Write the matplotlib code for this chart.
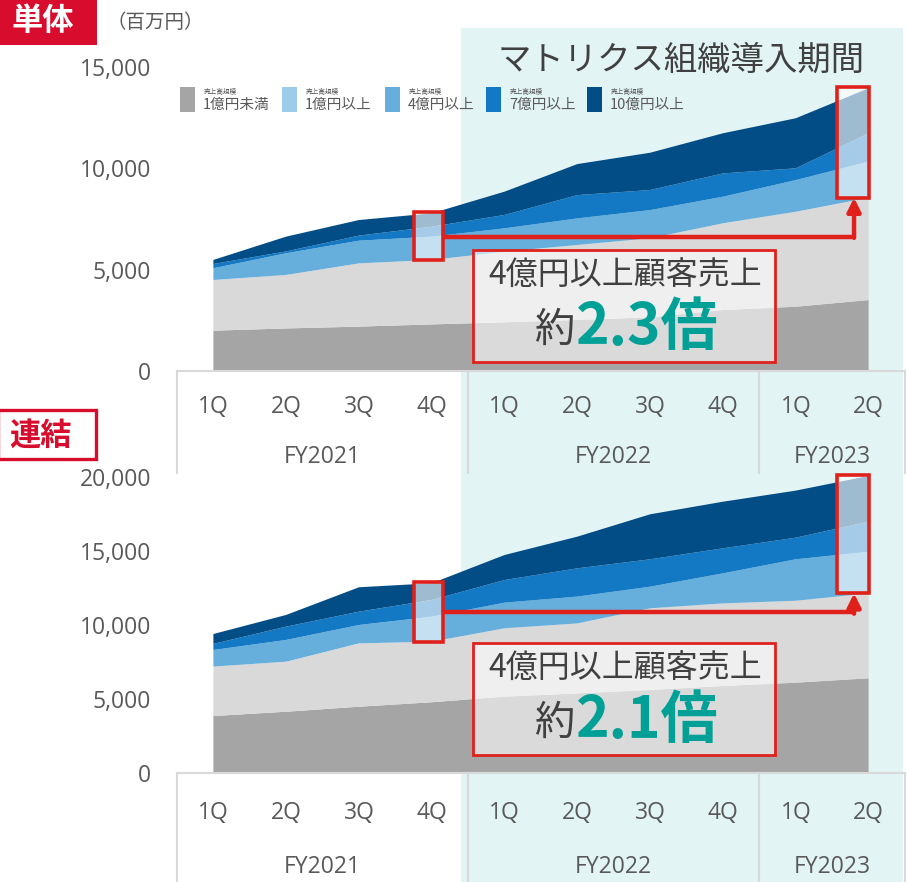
import numpy as np
import matplotlib
matplotlib.use('Agg')
import matplotlib.pyplot as plt
from matplotlib.patches import Rectangle
from matplotlib.lines import Line2D
import matplotlib.transforms as mtransforms

plt.rcParams['font.family'] = ['Noto Sans CJK JP', 'DejaVu Sans']

# ---------------- data ----------------
quarters = ['1Q', '2Q', '3Q', '4Q', '1Q', '2Q', '3Q', '4Q', '1Q', '2Q']
fiscal_years = ['FY2021', 'FY2022', 'FY2023']
fy_groups = [(0, 3), (4, 7), (8, 9)]
series_names = ['1億円未満', '1億円以上', '4億円以上', '7億円以上', '10億円以上']

# 単体 (百万円) layer values
tan_lt1 = [1990, 2100, 2190, 2300, 2400, 2520, 2650, 3010, 3170, 3500]
tan_1to4 = [2500, 2640, 3120, 3180, 3490, 3700, 3900, 4280, 4690, 5050]
tan_4to7 = [580, 1070, 1120, 1150, 1150, 1310, 1390, 1310, 1560, 1780]
tan_7to10 = [210, 90, 250, 490, 660, 1150, 990, 1150, 580, 1400]
tan_10up = [200, 730, 770, 660, 1150, 1530, 1840, 1980, 2470, 2220]

# 連結 (百万円) layer values
ren_lt1 = [3850, 4140, 4480, 4780, 5160, 5380, 5610, 5880, 6100, 6400]
ren_1to4 = [3340, 3380, 4280, 4090, 4620, 4730, 5520, 5580, 5540, 5740]
ren_4to7 = [1120, 1470, 1240, 1690, 1730, 1810, 1460, 2030, 2800, 2810]
ren_7to10 = [410, 900, 900, 1130, 1530, 1910, 1850, 1690, 1460, 2030]
ren_10up = [670, 790, 1650, 1130, 1690, 2140, 3040, 3150, 3180, 3090]

tan_yticks = [0, 5000, 10000, 15000]
ren_yticks = [0, 5000, 10000, 15000, 20000]
tan_ratio = '2.3倍'
ren_ratio = '2.1倍'

# ---------------- style ----------------
W, H = 907, 882
area_colors = ['#A5A5A5', '#D9D9D9', '#66AEDB', '#1479C4', '#024D86']
legend_colors = ['#A5A5A5', '#9DCBEA', '#66AEDB', '#1479C4', '#024D86']
RED = '#E0201B'
BRAND_RED = '#D80C2C'
TEAL_BG = '#E2F4F4'
TEAL_TXT = '#00A096'
GRAY_TXT = '#595959'
LINE_GRAY = '#D9D9D9'
NUM_FONT = ['Open Sans', 'DejaVu Sans']

fig = plt.figure(figsize=(W / 100, H / 100), dpi=100)
fig.patch.set_facecolor('white')


def fx(x):
    return x / W


def fy(y):
    return 1 - y / H


def ptext(x, y, s, **kw):
    return fig.text(fx(x), fy(y), s, **kw)


# teal background for the matrix-organization period
fig.patches.append(Rectangle((fx(461), fy(882)), fx(903) - fx(461), fy(28) - fy(882),
                             transform=fig.transFigure, facecolor=TEAL_BG,
                             edgecolor='none', zorder=-10))


def draw_panel(ax_top_px, ax_bot_px, ymax, yticks, layers, table_bot_px,
               q_y_px, fy_y_px, ratio_txt, box_px):
    ax = fig.add_axes([fx(177), fy(ax_bot_px), fx(905) - fx(177),
                       fy(ax_top_px) - fy(ax_bot_px)])
    ax.set_facecolor('none')
    x = np.arange(len(quarters))
    ax.stackplot(x, *layers, colors=area_colors, linewidth=0, zorder=2)
    ax.set_xlim(-0.5, 9.5)
    ax.set_ylim(0, ymax)
    for s in ['top', 'right', 'left']:
        ax.spines[s].set_visible(False)
    ax.spines['bottom'].set_color(LINE_GRAY)
    ax.spines['bottom'].set_linewidth(1.5)
    ax.set_yticks(yticks)
    ax.set_yticklabels([f'{v:,}' for v in yticks], fontsize=16.5,
                       color=GRAY_TXT, family=NUM_FONT)
    ax.tick_params(axis='y', length=0, pad=18.5)
    ax.set_xticks(x)
    ax.set_xticklabels(quarters, fontsize=16.5, color=GRAY_TXT, family=NUM_FONT)
    ax.tick_params(axis='x', length=0, pad=(q_y_px - ax_bot_px - 12) * 0.72)

    blend = mtransforms.blended_transform_factory(ax.transData, fig.transFigure)
    for xv in [-0.5, 3.5, 7.5, 9.5]:
        fig.add_artist(Line2D([xv, xv], [fy(ax_bot_px), fy(table_bot_px)],
                              transform=blend, color=LINE_GRAY, lw=1.5))
    for name, (a, b) in zip(fiscal_years, fy_groups):
        fig.text((a + b) / 2, fy(fy_y_px), name, transform=blend, ha='center',
                 va='center', fontsize=16.5, color=GRAY_TXT, family=NUM_FONT)

    cum = np.cumsum(np.array(layers), axis=0)
    total = cum[-1]
    base = cum[1]
    # red highlight boxes (4億円以上)
    i0, i1 = 3, 9
    ax.add_patch(Rectangle((2.76, base[i0]), 0.4, total[i0] + 60 - base[i0],
                           facecolor=(1, 1, 1, 0.62), edgecolor=RED, lw=2.6,
                           zorder=5))
    ax.add_patch(Rectangle((8.56, base[i1]), 0.44, total[i1] + 80 - base[i1],
                           facecolor=(1, 1, 1, 0.62), edgecolor=RED, lw=2.6,
                           zorder=5, clip_on=False))
    ymid = (base[i0] + total[i0]) / 2
    xv = 8.8
    ax.plot([3.16, xv], [ymid, ymid], color=RED, lw=3.2, zorder=5,
            solid_capstyle='butt')
    ax.annotate('', xy=(xv, base[i1]), xytext=(xv, ymid - ymax * 0.004),
                arrowprops=dict(arrowstyle='-|>', color=RED, lw=3.2,
                                mutation_scale=20, shrinkA=0, shrinkB=0),
                zorder=6)

    # annotation box
    bl, bt, br, bb = box_px
    fig.add_artist(Rectangle((fx(bl), fy(bb)), fx(br) - fx(bl), fy(bt) - fy(bb),
                             transform=fig.transFigure,
                             facecolor=(1, 1, 1, 0.6), edgecolor=RED, lw=2,
                             zorder=7))
    ptext(625, bt + 26, '4億円以上顧客売上', ha='center', va='center',
          fontsize=23, color='#404040', zorder=8)
    ptext(574, bt + 80, '約', ha='right', va='center', fontsize=29,
          color='#404040', zorder=8)
    ptext(576, bt + 78, ratio_txt, ha='left', va='center', fontsize=41,
          fontweight='bold', color=TEAL_TXT, zorder=8)
    return ax


ax1 = draw_panel(67, 371, 15000, tan_yticks,
                 [tan_lt1, tan_1to4, tan_4to7, tan_7to10, tan_10up],
                 473, 407, 457, tan_ratio, (473, 250, 775, 362))
ax2 = draw_panel(477, 773, 20000, ren_yticks,
                 [ren_lt1, ren_1to4, ren_4to7, ren_7to10, ren_10up],
                 882, 813, 867, ren_ratio, (473, 643, 775, 755))

# legend (manual, two-line labels)
leg_x = [180, 281.5, 384.5, 486, 587]
for lx, col, name in zip(leg_x, legend_colors, series_names):
    fig.add_artist(Rectangle((fx(lx), fy(112)), fx(15), fy(87) - fy(112),
                             transform=fig.transFigure, facecolor=col,
                             edgecolor='none', zorder=9))
    ptext(lx + 24, 92, '売上高規模', ha='left', va='center', fontsize=4.8,
          color=GRAY_TXT, zorder=9)
    ptext(lx + 23, 105, name, ha='left', va='center', fontsize=10.5,
          color=GRAY_TXT, zorder=9)

# titles and labels
ptext(681, 60, 'マトリクス組織導入期間', ha='center', va='center', fontsize=24,
      color='#404040')
fig.add_artist(Rectangle((0, fy(45)), fx(97), fy(0) - fy(45),
                         transform=fig.transFigure, facecolor=BRAND_RED,
                         edgecolor='none'))
ptext(43, 21, '単体', ha='center', va='center', fontsize=22.5, fontweight='bold',
      color='white')
ptext(155, 23, '（百万円）', ha='center', va='center', fontsize=14,
      color=GRAY_TXT)
fig.add_artist(Rectangle((fx(-2), fy(459)), fx(98), fy(410) - fy(459),
                         transform=fig.transFigure, facecolor='white',
                         edgecolor=BRAND_RED, lw=2.4))
ptext(40, 436, '連結', ha='center', va='center', fontsize=22.5, fontweight='bold',
      color=BRAND_RED)

fig.savefig('out.png', dpi=100)
